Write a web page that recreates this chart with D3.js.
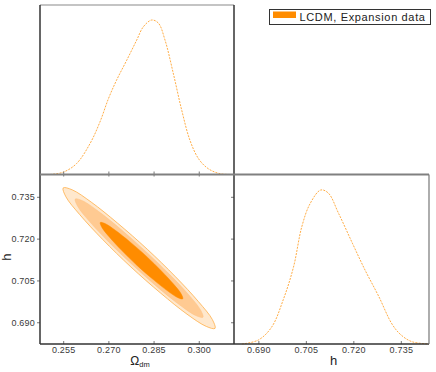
<!DOCTYPE html>
<html>
<head>
<meta charset="utf-8">
<script src="https://cdn.jsdelivr.net/npm/d3@7"></script>
<style>
    body { margin: 0; background: #fff; }
    text { font-family: "Liberation Sans", Arial, sans-serif; }
    .tick text { font-size: 9px; fill: #3a3a3a; }
</style>
</head>
<body>
<div id="chart"></div>
<script>

// ---- data ----

// marginal of Omega_dm
var omegaGrid = [0.2506, 0.255, 0.2594, 0.2639, 0.2672, 0.2700, 0.2727, 0.2761, 0.2794, 0.2816,
    0.2844, 0.2866, 0.2888, 0.2916, 0.2943, 0.2971, 0.3000, 0.3032, 0.3071, 0.3116];
var omegaDensity = [0, 0.015, 0.07, 0.2, 0.34, 0.49, 0.61, 0.74, 0.87, 0.956,
    1.0, 0.98, 0.87, 0.65, 0.42, 0.22, 0.10, 0.037, 0.005, 0];

// marginal of h
var hGrid = [0.6848, 0.690, 0.6942, 0.6979, 0.7011, 0.7037, 0.7063, 0.7097, 0.7121, 0.7153,
    0.7198, 0.7237, 0.728, 0.7322, 0.735, 0.7385, 0.7439];
var hDensity = [0, 0.026, 0.11, 0.29, 0.50, 0.76, 0.91, 1.0, 0.98, 0.85,
    0.65, 0.48, 0.31, 0.13, 0.06, 0.015, 0];

// 2D contours, [Omega_dm, h] vertices, outer -> inner
var contourOuter = [[0.3054, 0.6878], [0.3045, 0.6910], [0.2999, 0.6974], [0.2923, 0.7063],
    [0.2829, 0.7162], [0.2730, 0.7256], [0.2643, 0.7331], [0.2580, 0.7375],
    [0.2550, 0.7382], [0.2559, 0.7350], [0.2605, 0.7286], [0.2681, 0.7197],
    [0.2775, 0.7098], [0.2874, 0.7004], [0.2961, 0.6929], [0.3025, 0.6885]];
var contourMiddle = [[0.3014, 0.6918], [0.3006, 0.6944], [0.2967, 0.6998], [0.2903, 0.7072],
    [0.2823, 0.7155], [0.2741, 0.7234], [0.2667, 0.7298], [0.2614, 0.7336],
    [0.2590, 0.7342], [0.2598, 0.7316], [0.2637, 0.7262], [0.2701, 0.7188],
    [0.2781, 0.7105], [0.2863, 0.7026], [0.2937, 0.6962], [0.2990, 0.6924]];
var contourInner = [[0.2947, 0.6984], [0.2942, 0.7001], [0.2917, 0.7036], [0.2876, 0.7084],
    [0.2825, 0.7138], [0.2771, 0.7189], [0.2723, 0.7230], [0.2689, 0.7254],
    [0.2673, 0.7258], [0.2678, 0.7241], [0.2703, 0.7206], [0.2744, 0.7158],
    [0.2795, 0.7104], [0.2849, 0.7053], [0.2897, 0.7012], [0.2931, 0.6988]];

var omegaTicks = [0.255, 0.270, 0.285, 0.300];
var hTicks = [0.690, 0.705, 0.720, 0.735];
var legendLabel = "LCDM, Expansion data";

// ---- layout ----
var width = 436, height = 372;
var colL = 40, colM = 234, colR = 429;
var rowT = 5, rowM = 174.5, rowB = 344;

var svg = d3.select("#chart").append("svg")
    .attr("width", width)
    .attr("height", height);

// scales
var xOm = d3.scaleLinear().domain([0.2473, 0.3117]).range([colL, colM]);
var yH = d3.scaleLinear().domain([0.6822, 0.7430]).range([rowB, rowM]);
var xH = d3.scaleLinear().domain([0.6823, 0.7439]).range([colM, colR]);
var yDens1 = d3.scaleLinear().domain([0, 1]).range([rowM, 20]);
var yDens2 = d3.scaleLinear().domain([0, 1]).range([rowB, 190]);

// contours (bottom-left)
var contourLine = d3.line()
    .x(function(d) { return xOm(d[0]); })
    .y(function(d) { return yH(d[1]); })
    .curve(d3.curveCatmullRomClosed);

var contours = [
    { pts: contourOuter, fill: "#ffe8cd", stroke: "#ffb04a", sw: 0.8 },
    { pts: contourMiddle, fill: "#ffca92", stroke: "#ffc080", sw: 0.5 },
    { pts: contourInner, fill: "#ff8c00", stroke: "#ff8c00", sw: 0.5 }
];

svg.append("g").selectAll("path")
    .data(contours)
    .enter()
    .append("path")
    .attr("d", function(d) { return contourLine(d.pts); })
    .attr("fill", function(d) { return d.fill; })
    .attr("stroke", function(d) { return d.stroke; })
    .attr("stroke-width", function(d) { return d.sw; });

// marginals
var omegaLine = d3.line()
    .x(function(d, i) { return xOm(omegaGrid[i]); })
    .y(function(d) { return yDens1(d); })
    .curve(d3.curveCatmullRom.alpha(0.5));

var hLine = d3.line()
    .x(function(d, i) { return xH(hGrid[i]); })
    .y(function(d) { return yDens2(d); })
    .curve(d3.curveCatmullRom.alpha(0.5));

svg.append("path")
    .attr("d", omegaLine(omegaDensity))
    .attr("fill", "none")
    .attr("stroke", "#ffad45")
    .attr("stroke-width", 1)
    .attr("stroke-dasharray", "2,1.2");

svg.append("path")
    .attr("d", hLine(hDensity))
    .attr("fill", "none")
    .attr("stroke", "#ffad45")
    .attr("stroke-width", 1)
    .attr("stroke-dasharray", "2,1.2");

// axes
function styleAxis(g) {
    g.select(".domain").remove();
    g.selectAll(".tick line").attr("stroke", "#777");
    g.selectAll(".tick text").attr("letter-spacing", "0.2px");
}

// top-left: ticks straddling the shared edge
svg.append("g")
    .attr("transform", "translate(0," + (rowM - 3) + ")")
    .call(d3.axisBottom(xOm).tickValues(omegaTicks).tickSize(5).tickFormat(""))
    .call(styleAxis);

// bottom-left
svg.append("g")
    .attr("transform", "translate(0," + rowB + ")")
    .call(d3.axisBottom(xOm).tickValues(omegaTicks).tickSizeInner(-3).tickSizeOuter(0)
        .tickPadding(3).tickFormat(d3.format(".3f")))
    .call(styleAxis);

svg.append("g")
    .attr("transform", "translate(" + colL + ",0)")
    .call(d3.axisLeft(yH).tickValues(hTicks).tickSize(3).tickPadding(2)
        .tickFormat(d3.format(".3f")))
    .call(styleAxis);

svg.append("g")
    .attr("transform", "translate(" + colM + ",0)")
    .call(d3.axisLeft(yH).tickValues(hTicks).tickSize(3).tickFormat(""))
    .call(styleAxis);

// bottom-right
svg.append("g")
    .attr("transform", "translate(0," + rowB + ")")
    .call(d3.axisBottom(xH).tickValues(hTicks).tickSizeInner(-3).tickSizeOuter(0)
        .tickPadding(3).tickFormat(d3.format(".3f")))
    .call(styleAxis);

// frames
var frames = [
    [colL, rowT, colM, rowT, "#b0b0b0", 1.5],
    [colL, rowT, colL, rowB, "#333", 1.5],
    [colM, rowT, colM, rowB, "#333", 1.5],
    [colL, rowM, colR, rowM, "#808080", 2],
    [colL, rowB, colR, rowB, "#333", 1.5],
    [colR, rowM, colR, rowB, "#777", 1.2]
];

svg.append("g").selectAll("line")
    .data(frames)
    .enter()
    .append("line")
    .attr("x1", function(d) { return d[0]; })
    .attr("y1", function(d) { return d[1]; })
    .attr("x2", function(d) { return d[2]; })
    .attr("y2", function(d) { return d[3]; })
    .attr("stroke", function(d) { return d[4]; })
    .attr("stroke-width", function(d) { return d[5]; });

// axis titles
var omTitle = svg.append("text")
    .attr("x", (colL + colM) / 2 + 3)
    .attr("y", 365)
    .attr("text-anchor", "middle")
    .style("font-size", "12px")
    .attr("fill", "#222");
omTitle.append("tspan").text("Ω");
omTitle.append("tspan")
    .attr("dy", 2)
    .style("font-size", "7.5px")
    .text("dm");

svg.append("text")
    .attr("x", (colM + colR) / 2 + 2)
    .attr("y", 365)
    .attr("text-anchor", "middle")
    .style("font-size", "13px")
    .attr("fill", "#222")
    .text("h");

svg.append("text")
    .attr("transform", "translate(10.5," + ((rowM + rowB) / 2 - 2) + ") rotate(-90)")
    .attr("text-anchor", "middle")
    .style("font-size", "13px")
    .attr("fill", "#222")
    .text("h");

// legend
var legend = svg.append("g").attr("class", "legend");

legend.append("rect")
    .attr("x", 269.5)
    .attr("y", 9.5)
    .attr("width", 161)
    .attr("height", 15)
    .attr("fill", "#fff")
    .attr("stroke", "#333")
    .attr("stroke-width", 1);

legend.append("rect")
    .attr("x", 273)
    .attr("y", 11.5)
    .attr("width", 23)
    .attr("height", 6.5)
    .attr("fill", "#ff8c00");

legend.append("text")
    .attr("x", 299.5)
    .attr("y", 21)
    .style("font-size", "11px")
    .attr("letter-spacing", "0.65px")
    .attr("fill", "#222")
    .text(legendLabel);

</script>
</body>
</html>
